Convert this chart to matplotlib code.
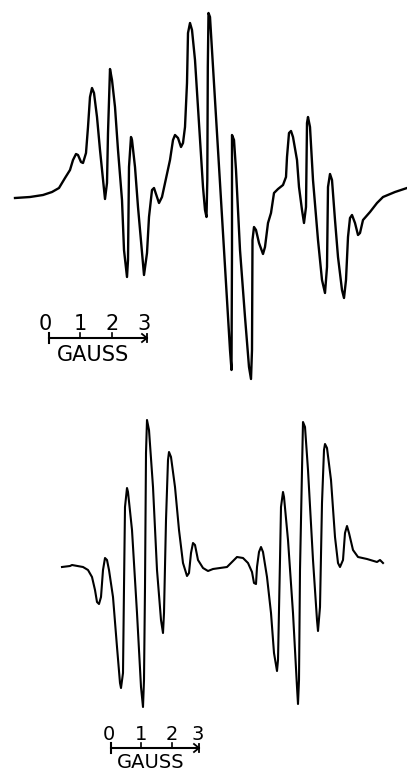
import matplotlib.pyplot as plt

# Espectro superior (trazado sobre la imagen, coordenadas en pixel)
x_sup = [15, 30, 43, 52, 59, 65, 70, 73, 76, 78,
         81, 83, 86, 88, 90, 92, 94, 97, 100, 103,
         105, 107, 108, 110, 112, 115, 118, 122, 124, 127,
         128, 129, 131, 132, 135, 138, 142, 144, 147, 149,
         152, 154, 157, 159, 162, 165, 170, 173, 175, 178,
         181, 183, 185, 187, 188, 190, 192, 195, 200, 203,
         205, 206.5, 207.3, 207.8, 208.5, 210, 212, 215, 220, 225,
         230, 231.5, 232, 232, 234, 236, 240, 245, 249, 251,
         252, 252.5, 254, 256, 259, 263, 265, 268, 271, 274,
         278, 283, 286, 287, 289, 291, 293, 297, 299, 302,
         304, 306, 307, 308, 310, 313, 318, 322, 325, 327,
         328, 330, 332, 335, 338, 342, 344, 346, 348, 350,
         352, 355, 358, 360, 363, 370, 377, 383, 395, 407]
y_sup = [198, 197, 195, 192, 188, 178, 170, 160, 154, 155,
         162, 163, 153, 127, 97, 88, 93, 117, 150, 180,
         199, 183, 133, 69, 80, 107, 150, 200, 250, 277,
         260, 167, 137, 140, 167, 207, 253, 275, 253, 217,
         190, 188, 197, 203, 197, 183, 160, 140, 135, 138,
         147, 143, 127, 83, 33, 23, 30, 60, 140, 187,
         210, 217, 180, 67, 13, 17, 50, 100, 183, 267,
         350, 370, 250, 135, 140, 170, 250, 317, 367, 379,
         350, 240, 227, 230, 243, 254, 247, 223, 213, 193,
         189, 185, 177, 157, 133, 131, 137, 160, 187, 210,
         223, 207, 123, 117, 127, 180, 240, 280, 293, 267,
         187, 174, 180, 220, 257, 290, 298, 280, 237, 218,
         215, 223, 235, 233, 220, 212, 203, 197, 192, 188]

# Espectro inferior
x_inf = [62, 70, 72, 83, 88, 92, 95, 97, 99, 101,
         103, 105, 107, 109, 113, 117, 120, 121, 123, 124,
         125, 127, 128, 132, 137, 141, 143, 144, 145, 146,
         147, 149, 153, 157, 161, 163, 164, 166, 168, 169,
         171, 175, 179, 183, 187, 189, 191, 193, 195, 198,
         203, 208, 213, 220, 227, 232, 237, 243, 248, 252,
         254, 256, 257, 259, 261, 263, 267, 271, 274, 277,
         278, 280, 281, 283, 284, 288, 293, 297, 298, 299,
         300, 302, 303, 305, 308, 313, 317, 318, 320, 322,
         324, 325, 327, 331, 335, 338, 340, 343, 345, 347,
         349, 353, 358, 367, 377, 380, 383]
y_inf = [567, 566, 565, 567, 570, 577, 590, 602, 604, 597,
         570, 558, 560, 570, 597, 647, 683, 688, 673, 587,
         507, 488, 492, 530, 613, 687, 707, 680, 587, 453,
         420, 430, 487, 570, 620, 633, 613, 520, 460, 452,
         457, 487, 530, 563, 576, 573, 553, 543, 545, 560,
         568, 571, 569, 568, 567, 562, 557, 558, 563, 572,
         583, 584, 567, 552, 547, 552, 577, 613, 653, 671,
         660, 560, 507, 492, 497, 540, 613, 687, 704, 680,
         570, 470, 422, 427, 470, 560, 620, 631, 607, 503,
         450, 444, 448, 480, 537, 563, 567, 560, 533, 526,
         533, 550, 557, 559, 562, 560, 563]

# Escala (Gauss)
gauss_ticks = [0, 1, 2, 3]

fig = plt.figure(figsize=(4.07, 7.73), dpi=100)
ax = fig.add_axes([0, 0, 1, 1])
ax.set_xlim(0, 407)
ax.set_ylim(773, 0)
ax.axis("off")

ax.plot(x_sup, y_sup, color="black", lw=1.7, solid_joinstyle="round")
ax.plot(x_inf, y_inf, color="black", lw=1.5, solid_joinstyle="round")


def barra(x0, x1, y, xt, xm, yg, fs):
    # barra de escala con marcas y etiquetas
    ax.plot([x0, x1], [y, y], color="black", lw=1.5)
    ax.plot([x0, x0], [y - 5, y + 5], color="black", lw=1.5)
    ax.plot([x1 - 5, x1, x1 - 5], [y - 4, y, y + 4], color="black", lw=1.3)
    ax.plot([x1, x1], [y - 4, y + 4], color="black", lw=1.3)
    for g, xx in zip(gauss_ticks, xt):
        if g in (1, 2):
            ax.plot([xx, xx], [y, y - 5], color="black", lw=1.2)
        ax.text(xx, y - 8, str(g), ha="center", va="baseline", fontsize=fs,
                family="DejaVu Sans")
    ax.text(xm, yg, "GAUSS", ha="center", va="top", fontsize=fs,
            family="DejaVu Sans")


barra(49, 147, 338, [45, 80, 112, 144], 93, 345, 15)
barra(111, 199, 748, [109, 141, 172, 198], 151, 753, 14)

fig.savefig("out.png", dpi=100)
